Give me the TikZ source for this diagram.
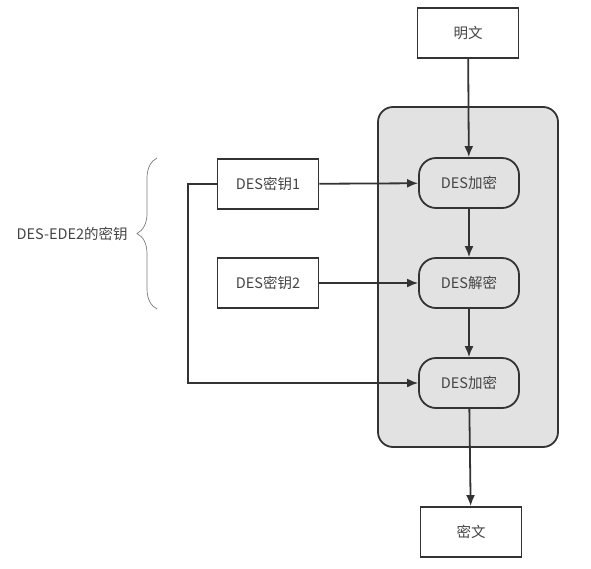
\documentclass[tikz,border=0pt]{standalone}
\usepackage{fontspec}
\setmainfont{Noto Sans CJK SC}
\usetikzlibrary{decorations.pathreplacing,arrows.meta}
\definecolor{ink}{HTML}{333333}
\definecolor{txt}{HTML}{444444}
\definecolor{corefill}{HTML}{E2E2E2}
\begin{document}
\begin{tikzpicture}[x=1pt,y=1pt,
    every node/.style={font=\fontsize{14.5}{17}\selectfont,text=txt},
    box/.style={draw=ink,line width=1.8pt,minimum width=101pt,minimum height=50pt},
    stage/.style={draw=ink,line width=1.8pt,rounded corners=17pt,minimum width=100pt,minimum height=50pt},
    flow/.style={draw=ink,line width=1.8pt,-{Latex[length=11pt,width=9pt]}}]
\useasboundingbox (0,0) rectangle (591,-568);
\fill[corefill,draw=ink,line width=1.8pt,rounded corners=15pt]
    (378,-107) rectangle (558,-447);
\node[box] (plain) at (468,-33) {明文};
\node[stage] (enc1) at (469,-183) {DES加密};
\node[stage] (dec) at (469,-283) {DES解密};
\node[stage] (enc2) at (469,-383) {DES加密};
\node[box] (cipher) at (471,-532) {密文};
\node[box] (key1) at (268,-184) {DES密钥1};
\node[box] (key2) at (268,-283) {DES密钥2};
\coordinate (bottom) at (157,-309);
\coordinate (top) at (157,-158);
\draw[flow] (plain) -- (enc1);
\draw[flow] (enc1) -- (dec);
\draw[flow] (dec) -- (enc2);
\draw[flow] (enc2) -- (cipher);
\draw[flow] (key1) -- (enc1);
\draw[flow] (key2) -- (dec);
\draw[flow] (key1.west) -- ++(-29,0) |- (enc2.west);
\draw[txt!70,line width=0.7pt,decorate,decoration={brace,amplitude=20pt}]
    (bottom) -- (top)
    node[midway,left=27pt,inner sep=2pt] (keys) {DES-EDE2的密钥};
\end{tikzpicture}
\end{document}
